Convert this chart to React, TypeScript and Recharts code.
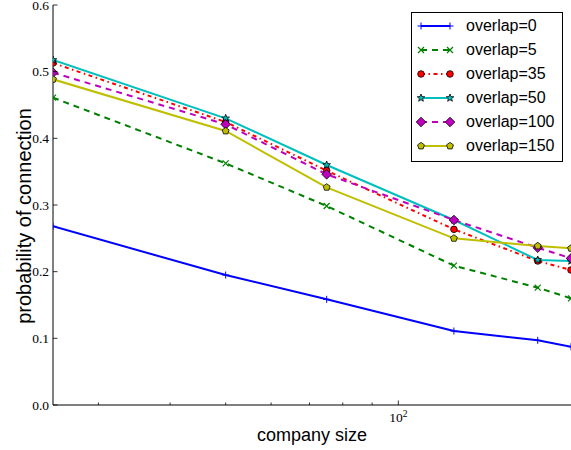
import { Label, Legend, Line, LineChart, XAxis, YAxis } from 'recharts';

const companySize = [25, 50, 75, 125, 175, 200];
const overlap0 = [0.268, 0.195, 0.1585, 0.111, 0.097, 0.0875];
const overlap5 = [0.461, 0.3625, 0.2985, 0.209, 0.176, 0.16];
const overlap35 = [0.513, 0.4245, 0.3515, 0.2635, 0.216, 0.2025];
const overlap50 = [0.5175, 0.43, 0.36, 0.2775, 0.2175, 0.216];
const overlap100 = [0.4985, 0.421, 0.346, 0.2775, 0.236, 0.22];
const overlap150 = [0.4885, 0.411, 0.3265, 0.25, 0.2385, 0.235];

const seriesNames = ['overlap=0', 'overlap=5', 'overlap=35', 'overlap=50', 'overlap=100', 'overlap=150'];
const xTicks = [30, 40, 50, 60, 70, 80, 90, 100];
const xMajor = [100];
const yTicks = [0, 0.1, 0.2, 0.3, 0.4, 0.5, 0.6];

const data = companySize.map((size, i) => ({
  size,
  o0: overlap0[i],
  o5: overlap5[i],
  o35: overlap35[i],
  o50: overlap50[i],
  o100: overlap100[i],
  o150: overlap150[i],
}));

type MarkerKind = 'plus' | 'x' | 'circle' | 'star' | 'diamond' | 'pentagon';

const series: { key: string; name: string; color: string; dash?: string; marker: MarkerKind }[] = [
  { key: 'o0', name: seriesNames[0], color: '#0000ff', marker: 'plus' },
  { key: 'o5', name: seriesNames[1], color: '#008000', dash: '6 5', marker: 'x' },
  { key: 'o35', name: seriesNames[2], color: '#ff0000', dash: '4 3.5 1.5 3.5', marker: 'circle' },
  { key: 'o50', name: seriesNames[3], color: '#00bfbf', marker: 'star' },
  { key: 'o100', name: seriesNames[4], color: '#bf00bf', dash: '6 5', marker: 'diamond' },
  { key: 'o150', name: seriesNames[5], color: '#bfbf00', marker: 'pentagon' },
];

const SANS = '"Liberation Sans", Arial, sans-serif';
const SERIF = '"Liberation Serif", "Times New Roman", serif';

function polygon(cx: number, cy: number, r: number, n: number, inner?: number) {
  const pts: string[] = [];
  const count = inner ? n * 2 : n;
  for (let i = 0; i < count; i++) {
    const rr = inner && i % 2 === 1 ? inner : r;
    const a = -Math.PI / 2 + (i * 2 * Math.PI) / count;
    pts.push(`${cx + rr * Math.cos(a)},${cy + rr * Math.sin(a)}`);
  }
  return pts.join(' ');
}

function Marker({ kind, x, y, color }: { kind: MarkerKind; x: number; y: number; color: string }) {
  const edge = { stroke: '#000', strokeWidth: 0.8 };
  switch (kind) {
    case 'plus':
      return <path d={`M${x - 3.5},${y}H${x + 3.5}M${x},${y - 3.5}V${y + 3.5}`} stroke={color} strokeWidth={1} fill="none" />;
    case 'x':
      return <path d={`M${x - 3},${y - 3}L${x + 3},${y + 3}M${x - 3},${y + 3}L${x + 3},${y - 3}`} stroke={color} strokeWidth={1.2} fill="none" />;
    case 'circle':
      return <circle cx={x} cy={y} r={3.3} fill={color} {...edge} />;
    case 'star':
      return <polygon points={polygon(x, y, 4, 5, 1.7)} fill={color} {...edge} />;
    case 'diamond':
      return <polygon points={`${x},${y - 4.8} ${x + 4.8},${y} ${x},${y + 4.8} ${x - 4.8},${y}`} fill={color} {...edge} />;
    case 'pentagon':
      return <polygon points={polygon(x, y, 3.6, 5)} fill={color} {...edge} />;
  }
}

const BottomTick = ({ x, y, payload }: any) => {
  const major = xMajor.includes(payload.value);
  return (
    <g>
      <line x1={x} x2={x} y1={y} y2={y - (major ? 4.5 : 2.5)} stroke="#000" strokeWidth={0.8} />
      {major && (
        <text x={x} y={y + 17} textAnchor="middle" fontFamily={SERIF} fontSize={13.5} fill="#000">
          10<tspan dy={-5} fontSize={9.5}>2</tspan>
        </text>
      )}
    </g>
  );
};

const TopTick = ({ x, y, payload }: any) => {
  const major = xMajor.includes(payload.value);
  return <line x1={x} x2={x} y1={y} y2={y + (major ? 4.5 : 2.5)} stroke="#000" strokeWidth={0.8} />;
};

const LeftTick = ({ x, y, payload }: any) => (
  <g>
    <line x1={x} x2={x + 4.5} y1={y} y2={y} stroke="#000" strokeWidth={0.8} />
    <text x={x - 4} y={y} dy="0.35em" textAnchor="end" fontFamily={SERIF} fontSize={13.5} fill="#000">
      {payload.value.toFixed(1)}
    </text>
  </g>
);

const RightTick = ({ x, y }: any) => <line x1={x} x2={x - 4.5} y1={y} y2={y} stroke="#000" strokeWidth={0.8} />;

function LegendBox() {
  return (
    <div
      style={{
        width: 150,
        boxSizing: 'content-box',
        border: '1px solid #000',
        background: '#fff',
        padding: '1px 0 3px',
      }}
    >
      {series.map((s) => (
        <div key={s.key} style={{ height: 24, display: 'flex', alignItems: 'center' }}>
          <svg width={54} height={24} style={{ display: 'block' }}>
            <line x1={9} x2={38} y1={12} y2={12} stroke={s.color} strokeWidth={2} strokeDasharray={s.dash} />
            <Marker kind={s.marker} x={9} y={12} color={s.color} />
            <Marker kind={s.marker} x={38} y={12} color={s.color} />
          </svg>
          <span style={{ fontFamily: SANS, fontSize: 16, color: '#000', lineHeight: '24px' }}>{s.name}</span>
        </div>
      ))}
    </div>
  );
}

export default function App() {
  return (
    <div style={{ position: 'absolute', left: 0, top: 0, width: 571, height: 450, background: '#fff' }}>
      <LineChart width={571} height={450} data={data} margin={{ top: 5, right: 0, bottom: 0, left: 0 }}>
        <XAxis
          dataKey="size"
          type="number"
          scale="log"
          domain={[25, 200]}
          allowDataOverflow
          ticks={xTicks}
          interval={0}
          height={45}
          tickSize={0}
          tickMargin={0}
          tickLine={false}
          tick={<BottomTick />}
          axisLine={{ stroke: '#000', strokeWidth: 1 }}
        >
          <Label
            content={({ viewBox }: any) => (
              <text
                x={viewBox.x + viewBox.width / 2}
                y={viewBox.y + 35.5}
                textAnchor="middle"
                fontFamily={SANS}
                fontSize={18}
                fill="#000"
              >
                company size
              </text>
            )}
          />
        </XAxis>
        <XAxis
          xAxisId="top"
          orientation="top"
          type="number"
          scale="log"
          domain={[25, 200]}
          allowDataOverflow
          ticks={xTicks}
          interval={0}
          height={0}
          tickSize={0}
          tickMargin={0}
          tickLine={false}
          tick={<TopTick />}
          axisLine={{ stroke: '#000', strokeWidth: 1 }}
        />
        <YAxis
          type="number"
          domain={[0, 0.6]}
          allowDataOverflow
          ticks={yTicks}
          interval={0}
          width={53}
          tickSize={0}
          tickMargin={0}
          tickLine={false}
          tick={<LeftTick />}
          axisLine={{ stroke: '#000', strokeWidth: 1 }}
        >
          <Label
            content={({ viewBox }: any) => {
              const cx = 31;
              const cy = viewBox.y + viewBox.height / 2 + 11;
              return (
                <text
                  x={cx}
                  y={cy}
                  transform={`rotate(-90, ${cx}, ${cy})`}
                  textAnchor="middle"
                  fontFamily={SANS}
                  fontSize={20}
                  fill="#000"
                >
                  probability of connection
                </text>
              );
            }}
          />
        </YAxis>
        <YAxis
          yAxisId="right"
          orientation="right"
          type="number"
          domain={[0, 0.6]}
          allowDataOverflow
          ticks={yTicks}
          interval={0}
          width={0}
          tickSize={0}
          tickMargin={0}
          tickLine={false}
          tick={<RightTick />}
          axisLine={{ stroke: '#000', strokeWidth: 1 }}
        />
        {series.map((s) => (
          <Line
            key={s.key}
            dataKey={s.key}
            name={s.name}
            type="linear"
            stroke={s.color}
            strokeWidth={2}
            strokeDasharray={s.dash}
            isAnimationActive={false}
            dot={(p: any) => <Marker key={`${s.key}-${p.index}`} kind={s.marker} x={p.cx} y={p.cy} color={s.color} />}
            activeDot={false}
          />
        ))}
        <Legend
          layout="vertical"
          align="center"
          verticalAlign="middle"
          content={() => <LegendBox />}
          wrapperStyle={{ position: 'absolute', left: 411, top: 12, width: 152, height: 'auto' }}
        />
      </LineChart>
    </div>
  );
}
